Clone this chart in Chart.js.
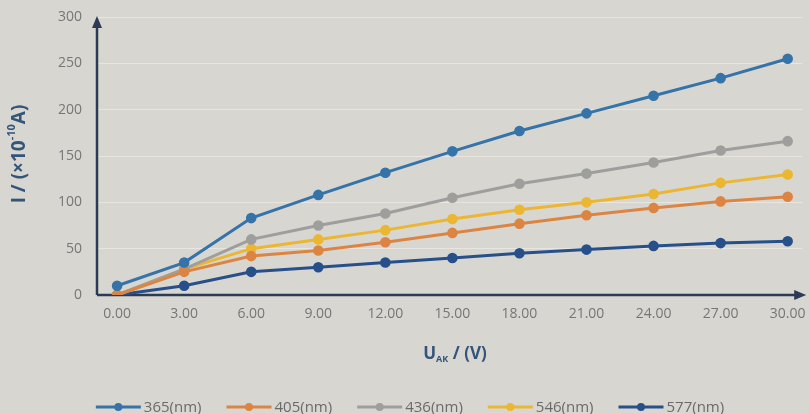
<!DOCTYPE html>
<html><head><meta charset="utf-8">
<script src="https://cdn.jsdelivr.net/npm/chart.js@4"></script>
<style>
html,body{margin:0;padding:0;background:#d8d6d1;}
#wrap{width:809px;height:414px;position:relative;}
</style>
</head><body>
<div id="wrap"><canvas id="c" width="809" height="414"></canvas></div>
<script>
// Photocurrent vs. anode voltage for five wavelengths
const voltages = [0, 3, 6, 9, 12, 15, 18, 21, 24, 27, 30];
const i365 = [10, 35, 83, 108, 132, 155, 177, 196, 215, 234, 255];
const i405 = [0, 25, 42, 48, 57, 67, 77, 86, 94, 101, 106];
const i436 = [0, 28, 60, 75, 88, 105, 120, 131, 143, 156, 166];
const i546 = [0, 28, 50, 60, 70, 82, 92, 100, 109, 121, 130];
const i577 = [0, 10, 25, 30, 35, 40, 45, 49, 53, 56, 58];
const seriesNames = ['365(nm)', '405(nm)', '436(nm)', '546(nm)', '577(nm)'];
const yTicks = [0, 50, 100, 150, 200, 250, 300];

const colors = ['#3573a8', '#dc8543', '#9e9e9c', '#ebb733', '#27508b'];
const seriesData = [i365, i405, i436, i546, i577];

const datasets = seriesData.map((arr, k) => ({
  label: seriesNames[k],
  data: voltages.map((v, i) => ({ x: v, y: arr[i] })),
  borderColor: colors[k],
  backgroundColor: colors[k],
  borderWidth: 3,
  pointRadius: 3.8,
  pointHoverRadius: 3.8,
  tension: 0
}));

const axisColor = '#2b3b55';
const tickFont = { family: 'Open Sans', size: 14 };

const decor = {
  id: 'decor',
  beforeDatasetsDraw(chart) {
    const { ctx, chartArea: a } = chart;
    ctx.save();
    ctx.strokeStyle = axisColor;
    ctx.fillStyle = axisColor;
    ctx.lineWidth = 2.5;
    // y axis with arrow
    ctx.beginPath();
    ctx.moveTo(a.left, a.bottom);
    ctx.lineTo(a.left, a.top + 6);
    ctx.stroke();
    ctx.beginPath();
    ctx.moveTo(a.left, a.top - 1);
    ctx.lineTo(a.left - 5, a.top + 11);
    ctx.lineTo(a.left + 5, a.top + 11);
    ctx.closePath();
    ctx.fill();
    // x axis with arrow
    ctx.beginPath();
    ctx.moveTo(a.left, a.bottom);
    ctx.lineTo(a.right - 6, a.bottom);
    ctx.stroke();
    ctx.beginPath();
    ctx.moveTo(a.right + 4, a.bottom);
    ctx.lineTo(a.right - 8, a.bottom - 5);
    ctx.lineTo(a.right - 8, a.bottom + 5);
    ctx.closePath();
    ctx.fill();
    ctx.restore();
  },
  afterDraw(chart) {
    const { ctx } = chart;
    ctx.save();
    ctx.fillStyle = '#34557a';
    ctx.textBaseline = 'middle';
    ctx.textAlign = 'left';

    // y-axis title: I / (×10^-10 A)
    const big = 'bold 19px "Open Sans"';
    const small = 'bold 11px "Open Sans"';
    const yParts = [['I / (\u00d710', big, 0], ['-10', small, -8], ['A)', big, 0]];
    let total = 0;
    yParts.forEach(p => { ctx.font = p[1]; total += ctx.measureText(p[0]).width; });
    ctx.translate(20, 154);
    ctx.rotate(-Math.PI / 2);
    let x = -total / 2;
    yParts.forEach(p => { ctx.font = p[1]; ctx.fillText(p[0], x, p[2]); x += ctx.measureText(p[0]).width; });
    ctx.setTransform(1, 0, 0, 1, 0, 0);

    // x-axis title: U_AK / (V)
    const xb = 'bold 17px "Open Sans"';
    const xs = 'bold 9px "Open Sans"';
    const xParts = [['U', xb, 0], ['AK', xs, 5], [' / (V)', xb, 0]];
    total = 0;
    xParts.forEach(p => { ctx.font = p[1]; total += ctx.measureText(p[0]).width; });
    x = 455 - total / 2;
    xParts.forEach(p => { ctx.font = p[1]; ctx.fillText(p[0], x, 354 + p[2]); x += ctx.measureText(p[0]).width; });

    // legend
    ctx.font = '15px "Open Sans"';
    const lineLen = 45, gap = 3, spacing = 25;
    const widths = chart.data.datasets.map(d => lineLen + gap + ctx.measureText(d.label).width);
    const sum = widths.reduce((s, w) => s + w, 0) + spacing * (widths.length - 1);
    let lx = 410 - sum / 2;
    const ly = 407;
    chart.data.datasets.forEach((d, k) => {
      ctx.strokeStyle = d.borderColor;
      ctx.fillStyle = d.borderColor;
      ctx.lineWidth = 3;
      ctx.beginPath();
      ctx.moveTo(lx, ly);
      ctx.lineTo(lx + lineLen, ly);
      ctx.stroke();
      ctx.beginPath();
      ctx.arc(lx + lineLen / 2, ly, 4, 0, Math.PI * 2);
      ctx.fill();
      ctx.fillStyle = '#6a6a6a';
      ctx.fillText(d.label, lx + lineLen + gap, ly + 1);
      lx += widths[k] + spacing;
    });
    ctx.restore();
  }
};

new Chart(document.getElementById('c'), {
  type: 'line',
  data: { datasets },
  options: {
    responsive: false,
    animation: false,
    layout: { padding: { top: 17, right: 4, left: 0, bottom: 0 } },
    plugins: { legend: { display: false }, tooltip: { enabled: false } },
    scales: {
      x: {
        type: 'linear',
        min: -0.9,
        max: 30.65,
        afterBuildTicks: s => { s.ticks = voltages.map(v => ({ value: v })); },
        afterFit: s => { s.height = 119; s.paddingLeft = 0; s.paddingRight = 0; },
        grid: { display: false, drawTicks: false },
        border: { display: false },
        ticks: { color: '#767676', font: tickFont, padding: 11, maxRotation: 0, autoSkip: false,
                 callback: v => Number(v).toFixed(2) }
      },
      y: {
        min: 0,
        max: 300,
        afterBuildTicks: s => { s.ticks = yTicks.map(v => ({ value: v })); },
        afterFit: s => { s.width = 97; s.paddingTop = 0; s.paddingBottom = 0; },
        grid: { color: 'rgba(236,233,229,0.85)', lineWidth: 1, drawTicks: false },
        border: { display: false },
        ticks: { color: '#767676', font: tickFont, padding: 15 }
      }
    }
  },
  plugins: [decor]
});
</script>
</body></html>
